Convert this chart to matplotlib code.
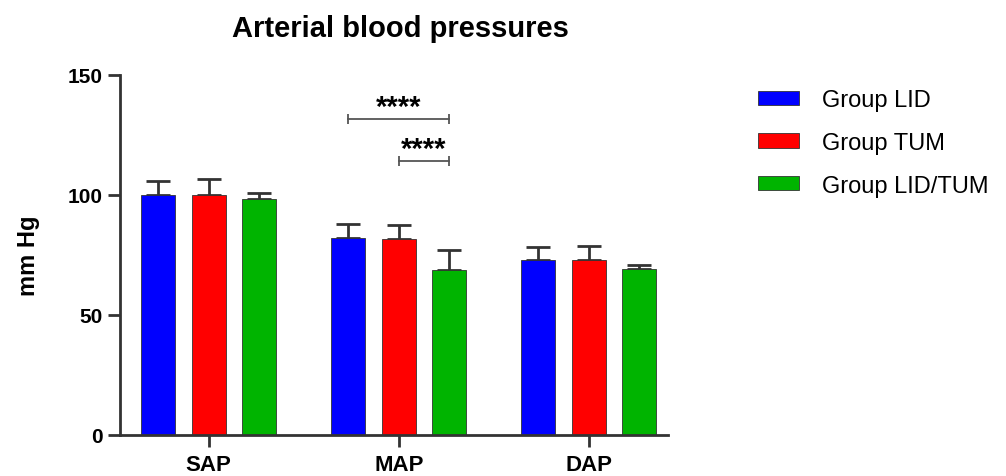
import numpy as np
import matplotlib
matplotlib.use('Agg')
import matplotlib.pyplot as plt

plt.rcParams['font.family'] = ['Liberation Sans', 'DejaVu Sans']

# 数据
params = ['SAP', 'MAP', 'DAP']
groups = ['Group LID', 'Group TUM', 'Group LID/TUM']
colors = ['#0000FF', '#FF0000', '#00B400']
means = [
    [100.0, 82.2, 72.8],   # LID
    [99.8, 81.5, 72.8],    # TUM
    [98.3, 68.9, 69.3],    # LID/TUM
]
errs = [
    [5.8, 5.6, 5.3],
    [6.9, 6.0, 5.8],
    [2.3, 8.2, 1.4],
]
# 显著性标记: (参数序号, 组a, 组b, 高度)
sig_pairs = [(1, 0, 2, 131.5), (1, 1, 2, 114.2)]
sig_text = '****'

fig = plt.figure(figsize=(10.06, 4.77), dpi=100)
ax = fig.add_axes([0.119, 0.086, 0.545, 0.755])

x = np.arange(len(params))
width = 0.179
offset = 0.266
for i, g in enumerate(groups):
    pos = x + (i - 1) * offset
    ax.bar(pos, means[i], width, color=colors[i], edgecolor='#333333', linewidth=0.6, label=g, zorder=2)
    ax.errorbar(pos, means[i], yerr=[np.zeros(len(params)), errs[i]], fmt='none',
                ecolor='#333333', elinewidth=2, capsize=8.5, capthick=2, zorder=1)

# 显著性括号
for p, a, b, h in sig_pairs:
    xa = x[p] + (a - 1) * offset
    xb = x[p] + (b - 1) * offset
    ax.plot([xa, xb], [h, h], color='#555555', lw=1.3)
    ax.plot([xa, xb], [h, h], ls='none', marker='|', ms=7, mew=1.3, color='#555555')
    ax.text((xa + xb) / 2, h + 1.8, sig_text, ha='center', va='baseline', fontsize=21, fontweight='bold')

ax.set_xlim(-0.468, 2.416)
ax.set_ylim(0, 150)
ax.set_yticks([0, 50, 100, 150])
ax.set_xticks(x)
ax.set_xticklabels(params)
for s in ['top', 'right']:
    ax.spines[s].set_visible(False)
for s in ['left', 'bottom']:
    ax.spines[s].set_linewidth(2)
    ax.spines[s].set_color('#333333')
ax.tick_params(axis='both', width=2, length=8.5, color='#333333', labelsize=15)
ax.tick_params(axis='x', labelsize=16, pad=5)
for lab in ax.get_xticklabels() + ax.get_yticklabels():
    lab.set_fontweight('bold')
ax.set_ylabel('mm Hg', fontsize=17, fontweight='bold', labelpad=20)

fig.suptitle('Arterial blood pressures', x=0.398, y=0.968, fontsize=21, fontweight='bold')

ax.legend(loc='upper left', bbox_to_anchor=(0.753, 0.811), bbox_transform=fig.transFigure,
          frameon=False, fontsize=17, handlelength=1.74, handleheight=0.55,
          handletextpad=0.97, labelspacing=0.88, borderpad=0, borderaxespad=0)

fig.savefig('out.png', dpi=100)
